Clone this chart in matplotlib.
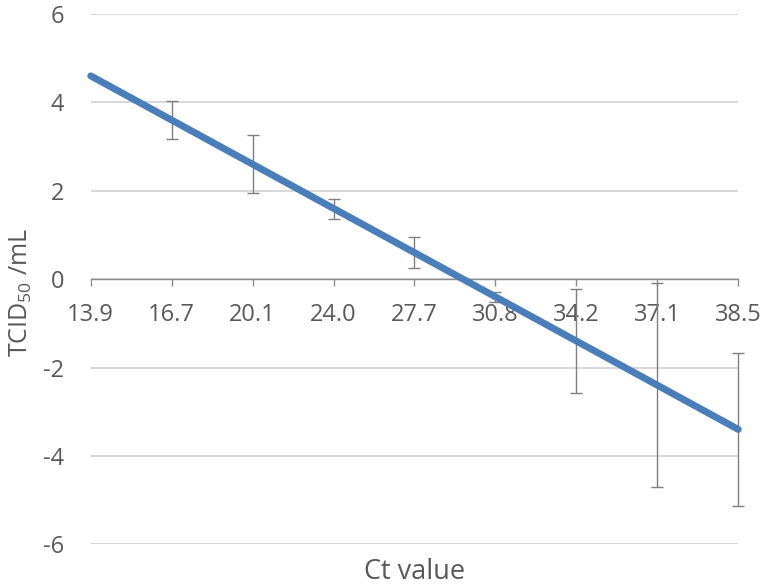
import numpy as np
import matplotlib
matplotlib.use("Agg")
import matplotlib.pyplot as plt

# Data
ct_labels = ["13.9", "16.7", "20.1", "24.0", "27.7", "30.8", "34.2", "37.1", "38.5"]
tcid50 = [4.6, 3.6, 2.6, 1.6, 0.6, -0.4, -1.4, -2.4, -3.4]
err_low = [np.nan, 3.17, 1.94, 1.37, 0.26, -0.52, -2.57, -4.71, -5.13]
err_high = [np.nan, 4.03, 3.27, 1.82, 0.95, -0.28, -0.23, -0.08, -1.67]
y_ticks = [-6, -4, -2, 0, 2, 4, 6]

plt.rcParams['font.family'] = ['Open Sans', 'DejaVu Sans']
plt.rcParams['mathtext.fontset'] = 'custom'
plt.rcParams['mathtext.rm'] = 'Open Sans'
plt.rcParams['mathtext.it'] = 'Open Sans:italic'

text_col = '#595959'

fig = plt.figure(figsize=(7.63, 5.88), dpi=100)
ax = fig.add_axes([0.1189, 0.0743, 0.9676 - 0.1189, 0.9762 - 0.0743])

x = np.arange(len(ct_labels))
y = np.array(tcid50)
lo = np.array(err_low)
hi = np.array(err_high)
mask = ~np.isnan(lo)

eb = ax.errorbar(x[mask], y[mask], yerr=[y[mask] - lo[mask], hi[mask] - y[mask]],
                 fmt='none', ecolor='#7f7f7f', elinewidth=1.0, capsize=4.3,
                 capthick=1.0, zorder=3)
for child in eb.get_children():
    child.set_clip_on(False)
ax.plot(x, y, color='#4a7ebb', linewidth=5, solid_capstyle='round', zorder=4,
        clip_on=False)

ax.set_xlim(0, len(ct_labels) - 1)
ax.set_ylim(-6, 6)
ax.set_yticks(y_ticks)
ax.set_yticklabels([str(v) for v in y_ticks])
ax.set_xticks(x)
ax.set_xticklabels(ct_labels)

for s in ['top', 'right', 'left']:
    ax.spines[s].set_visible(False)
ax.spines['bottom'].set_position(('data', 0))
ax.spines['bottom'].set_color('#8c8c8c')
ax.spines['bottom'].set_linewidth(1.0)
ax.spines['bottom'].set_zorder(2)

ax.grid(axis='y', color='#d9d9d9', linewidth=1.5, zorder=0)
ax.set_axisbelow(True)

ax.tick_params(axis='y', length=0, pad=19, labelsize=17, labelcolor=text_col)
ax.tick_params(axis='x', direction='out', length=5, width=1.0, color='#8c8c8c',
               pad=12, labelsize=17, labelcolor=text_col)

fig.text(21 / 763, 1 - 293 / 588, r'TCID$_{\mathrm{50}}$ /mL', rotation=90,
         ha='center', va='center', fontsize=18, color=text_col)
fig.text(414.5 / 763, 1 - 579 / 588, 'Ct value', ha='center', va='baseline',
         fontsize=19.5, color=text_col)

fig.savefig('out.png', dpi=100)
